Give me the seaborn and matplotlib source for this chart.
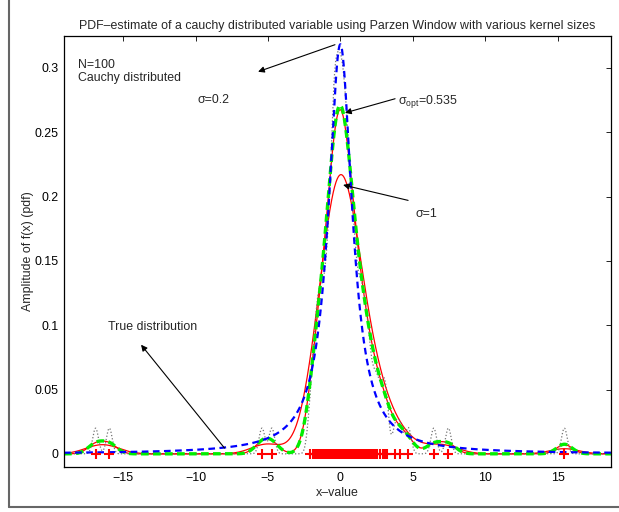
import numpy as np
import matplotlib
matplotlib.use("Agg")
import matplotlib.pyplot as plt
from matplotlib.lines import Line2D
import seaborn as sns

# ---- data -------------------------------------------------------------
# sample points (N = 100); a few far tail points lie outside the visible x-range
far_outliers = [-95.0, -31.5, -22.4, 26.8, 48.2]
outliers = [-16.9, -15.95, -5.41, -4.73, 3.8, 4.15, 4.7, 6.45, 7.46, 15.47]
central = [-2.12,
           -1.92, -1.8, -1.7, -1.62, -1.55,
           -1.46, -1.4, -1.33, -1.27, -1.14, -1.08, -1.02,
           -0.97, -0.87, -0.82, -0.78, -0.69, -0.65, -0.61, -0.57, -0.54, -0.51,
           -0.47, -0.44, -0.41, -0.38, -0.35, -0.32, -0.29, -0.26, -0.22, -0.19, -0.16, -0.12,
           -0.09, -0.06, -0.03,
           0.0, 0.03, 0.06, 0.09, 0.13, 0.16, 0.19, 0.22, 0.26, 0.29, 0.32, 0.36, 0.4, 0.43, 0.47,
           0.51, 0.55, 0.59, 0.63, 0.67, 0.71, 0.79, 0.84, 0.88, 0.93, 0.97,
           1.03, 1.09, 1.21, 1.27, 1.34, 1.41, 1.47,
           1.55, 1.63, 1.71, 1.8, 1.88, 1.96,
           2.1, 2.25, 2.42,
           2.55, 2.72, 2.95,
           3.08, 3.2]
samples = np.array(far_outliers + outliers + central)

sigma_small = 0.2
sigma_opt = 0.535
sigma_mid = 0.56
sigma_one = 1.0
cauchy_gamma = 1.0

x_limits = (-19.08, 18.69)
y_limits = (-0.01, 0.325)
x_ticks = [-15, -10, -5, 0, 5, 10, 15]
y_ticks = [0, 0.05, 0.1, 0.15, 0.2, 0.25, 0.3]
y_tick_labels = ["0", "0.05", "0.1", "0.15", "0.2", "0.25", "0.3"]

grid = np.linspace(x_limits[0], x_limits[1], 2000)


def parzen(g, data, s):
    d = (g[:, None] - data[None, :]) / s
    return np.exp(-0.5 * d ** 2).sum(axis=1) / (len(data) * s * np.sqrt(2 * np.pi))


true_pdf = 1.0 / (np.pi * cauchy_gamma * (1 + (grid / cauchy_gamma) ** 2))
est_small = parzen(grid, samples, sigma_small)
est_opt = parzen(grid, samples, sigma_opt)
est_mid = parzen(grid, samples, sigma_mid)
est_one = parzen(grid, samples, sigma_one)

# ---- style ------------------------------------------------------------
sns.set_style("white")
plt.rcParams["font.family"] = ["Liberation Sans", "DejaVu Sans"]
plt.rcParams["mathtext.fontset"] = "custom"
plt.rcParams["mathtext.rm"] = "Liberation Sans"
plt.rcParams["mathtext.it"] = "Liberation Sans"
FS = 8.9

fig = plt.figure(figsize=(6.19, 5.12), dpi=100)
fig.patch.set_facecolor("white")
ax = fig.add_axes([64 / 619, 1 - 466.7 / 512, (611 - 64) / 619, (466.7 - 35.7) / 512])

kw = dict(ax=ax, estimator=None, sort=False, legend=False)
sns.lineplot(x=grid, y=est_one, color="red", linewidth=0.9, **kw)
sns.lineplot(x=grid, y=est_mid, color="red", linewidth=0.9, **kw)
sns.lineplot(x=grid, y=est_small, color="0.45", linewidth=0.9, linestyle=":", **kw)
sns.lineplot(x=grid, y=est_opt, color="#00ee00", linewidth=2.4, linestyle=(0, (2.3, 1.3)), **kw)
sns.lineplot(x=grid, y=true_pdf, color="blue", linewidth=1.6, linestyle=(0, (3, 2)), **kw)
sns.scatterplot(x=samples, y=np.zeros_like(samples), marker="+", color="red",
                s=42, linewidth=1.5, ax=ax, legend=False, zorder=5)

ax.set_xlim(*x_limits)
ax.set_ylim(*y_limits)
ax.set_xticks(x_ticks)
ax.set_yticks(y_ticks)
ax.set_yticklabels(y_tick_labels)
ax.tick_params(direction="in", length=3.6, width=0.6, top=True, right=True,
               labelsize=FS, colors="black", pad=4)
for sp in ax.spines.values():
    sp.set_visible(True)
    sp.set_color("black")
    sp.set_linewidth(0.9)

ax.set_title("PDF–estimate of a cauchy distributed variable using Parzen Window with various kernel sizes",
             fontsize=FS, pad=5)
ax.set_xlabel("x–value", fontsize=FS, labelpad=2)
ax.set_ylabel("Amplitude of f(x) (pdf)", fontsize=FS, labelpad=0.5)

arrow = dict(arrowstyle="-|>", color="black", lw=0.8, mutation_scale=9, shrinkA=0, shrinkB=0)
ax.annotate("", xy=(-5.68, 0.297), xytext=(-0.37, 0.318), arrowprops=arrow)
ax.annotate("", xy=(0.32, 0.265), xytext=(3.78, 0.276), arrowprops=arrow)
ax.annotate("", xy=(0.19, 0.209), xytext=(4.68, 0.197), arrowprops=arrow)
ax.annotate("", xy=(-13.76, 0.0848), xytext=(-8.0, 0.0045), arrowprops=arrow)

ax.text(-18.13, 0.307, "N=100\nCauchy distributed", fontsize=FS, va="top", ha="left", linespacing=1.12)
ax.text(-9.83, 0.275, "σ=0.2", fontsize=FS, va="center", ha="left")
ax.text(3.96, 0.272, r"σ$_{\mathrm{opt}}$=0.535", fontsize=FS, va="baseline", ha="left")
ax.text(5.16, 0.1867, "σ=1", fontsize=FS, va="center", ha="left")
ax.text(-16.04, 0.0988, "True distribution", fontsize=FS, va="center", ha="left")

# figure frame
y_b = 1 - 507 / 512
fig.add_artist(Line2D([9 / 619, 9 / 619], [y_b, 1.0], color="0.4", lw=1.5, transform=fig.transFigure))
fig.add_artist(Line2D([9 / 619, 1.0], [y_b, y_b], color="0.4", lw=1.5, transform=fig.transFigure))

fig.savefig("out.png", dpi=100, facecolor="white")
